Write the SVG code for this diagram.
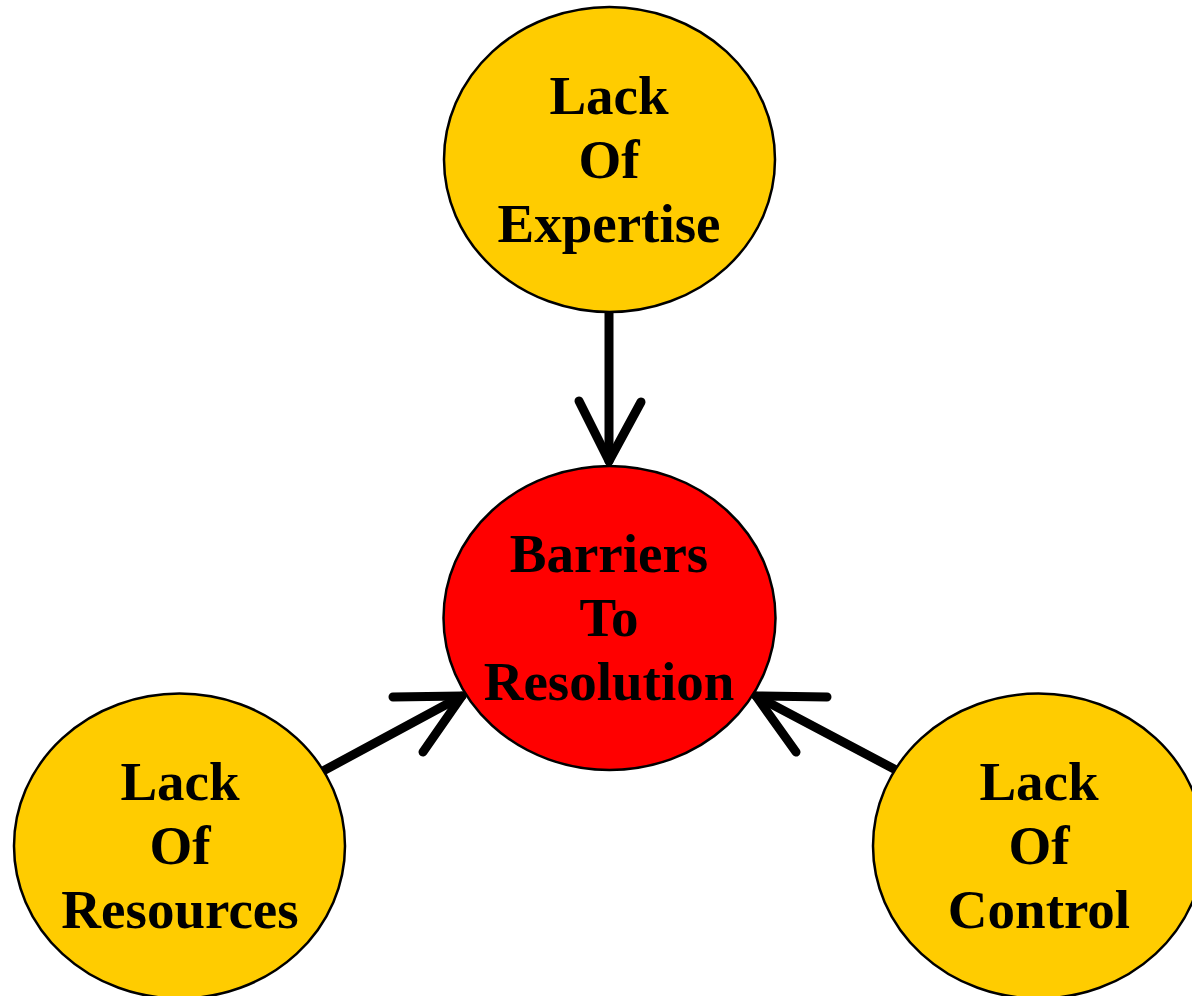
<svg xmlns="http://www.w3.org/2000/svg" width="1192" height="996" viewBox="0 0 1192 996">
<style>
.node{stroke:#000;stroke-width:2.5}
.y{fill:#FFCC00}
.r{fill:#FF0000}
text{font-family:"Liberation Serif","DejaVu Serif",serif;font-weight:bold;font-size:55px;text-anchor:middle;fill:#000}
.c line,.c polyline{stroke:#000;stroke-width:9;stroke-linecap:round;stroke-linejoin:round;fill:none}
</style>
<rect width="1192" height="996" fill="#fff"/>
<g id="connectors" class="c">
<line x1="609" y1="312" x2="609" y2="461"/>
<polyline points="579,401 609,461 641,402"/>
<line x1="323" y1="771" x2="462" y2="696"/>
<polyline points="393,697 462,696 423,752"/>
<line x1="896" y1="770" x2="756" y2="696"/>
<polyline points="827,697 756,696 796,752"/>
</g>
<g id="node-expertise">
<ellipse class="node y" cx="609.5" cy="159.5" rx="165.5" ry="152.5"/>
<text x="609" y="114">Lack</text>
<text x="609" y="178">Of</text>
<text x="609" y="242">Expertise</text>
</g>
<g id="node-barriers">
<ellipse class="node r" cx="609.5" cy="618" rx="166" ry="152"/>
<text x="609" y="572">Barriers</text>
<text x="609" y="636">To</text>
<text x="609" y="700">Resolution</text>
</g>
<g id="node-resources">
<ellipse class="node y" cx="179.5" cy="846" rx="165.5" ry="152.5"/>
<text x="180" y="800">Lack</text>
<text x="180" y="864">Of</text>
<text x="180" y="928">Resources</text>
</g>
<g id="node-control">
<ellipse class="node y" cx="1038.5" cy="846" rx="165.5" ry="152.5"/>
<text x="1039" y="800">Lack</text>
<text x="1039" y="864">Of</text>
<text x="1039" y="928">Control</text>
</g>
</svg>
